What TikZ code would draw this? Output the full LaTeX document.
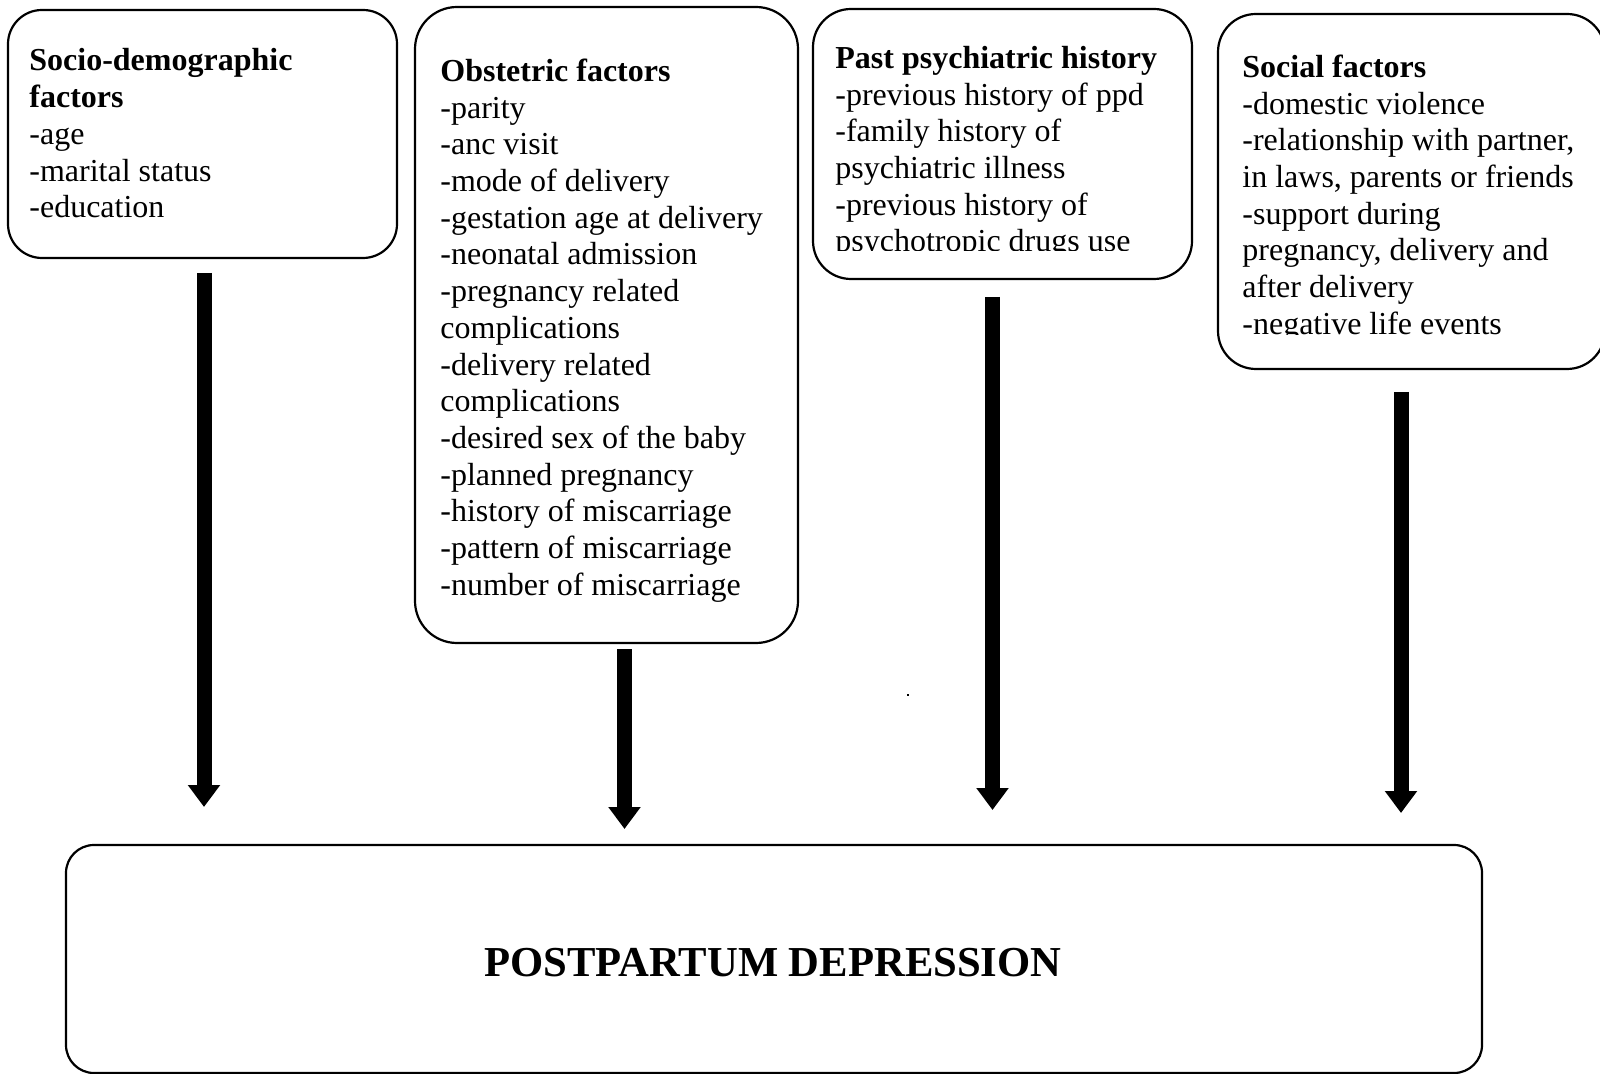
\documentclass[tikz,border=0pt]{standalone}
\usepackage{fontspec}
\setmainfont{Liberation Serif}
\usetikzlibrary{arrows.meta}
\newcommand\boxlines[1]{\begin{tabular}[t]{@{}l@{}}#1\end{tabular}}
\begin{document}
\begin{tikzpicture}[x=0.5pt,y=-0.5pt,
  box/.style={draw, line width=1.1pt, rounded corners=#1, inner sep=0pt},
  box/.default=17pt,
  txt/.style={inner sep=0pt, anchor=base west, font=\fontsize{16}{18.35}\selectfont},
  fat/.style={line width=7.5pt, -{Triangle[width=15.5pt,length=11pt]}}]
\useasboundingbox (0,0) rectangle (1600,1074);
% boxes
\node[box=17pt, minimum width=194.5pt, minimum height=124pt] (b1) at (202.5,134) {};
\node[box=21pt, minimum width=191.5pt, minimum height=318pt] (b2) at (606.5,325) {};
\node[box=19pt, minimum width=189.5pt, minimum height=135pt] (b3) at (1002.5,144) {};
\node[box=19pt, minimum width=193.5pt, minimum height=177.5pt] (b4) at (1411.5,191.5) {};
\node[box=14pt, minimum width=708pt, minimum height=114pt] (pd) at (774,959) {};
\node[inner sep=0pt, font=\fontsize{21.33}{24}\selectfont\bfseries] (pdt) at (773,963) {POSTPARTUM DEPRESSION};
% texts
\node[txt] (t1) at (29,71) {\boxlines{\textbf{Socio-demographic}\\\textbf{factors}\\-age\\-marital status\\-education}};
\node[txt] (t2) at (440,81.5) {\boxlines{\textbf{Obstetric factors}\\-parity\\-anc visit\\-mode of delivery\\-gestation age at delivery\\-neonatal admission\\-pregnancy related\\complications\\-delivery related\\complications\\-desired sex of the baby\\-planned pregnancy\\-history of miscarriage\\-pattern of miscarriage\\-number of miscarriage}};
\begin{scope}
\clip (820,20) rectangle (1190,251);
\node[txt] (t3) at (835,68.5) {\boxlines{\textbf{Past psychiatric history}\\-previous history of ppd\\-family history of\\psychiatric illness\\-previous history of\\psychotropic drugs use}};
\end{scope}
\begin{scope}
\clip (1225,20) rectangle (1600,335);
\node[txt] (t4) at (1242,77.5) {\boxlines{\textbf{Social factors}\\-domestic violence\\-relationship with partner,\\in laws, parents or friends\\-support during\\pregnancy, delivery and\\after delivery\\-negative life events}};
\end{scope}
% arrows
\coordinate (a1s) at (204,273);   \coordinate (a1e) at (204,807);
\coordinate (a2s) at (624.5,649); \coordinate (a2e) at (624.5,829);
\coordinate (a3s) at (992.5,297); \coordinate (a3e) at (992.5,810);
\coordinate (a4s) at (1401,392);  \coordinate (a4e) at (1401,813);
\draw[fat] (a1s) -- (a1e);
\draw[fat] (a2s) -- (a2e);
\draw[fat] (a3s) -- (a3e);
\draw[fat] (a4s) -- (a4e);
% stray dot
\fill (907,694) rectangle (909,696);
\end{tikzpicture}
\end{document}
